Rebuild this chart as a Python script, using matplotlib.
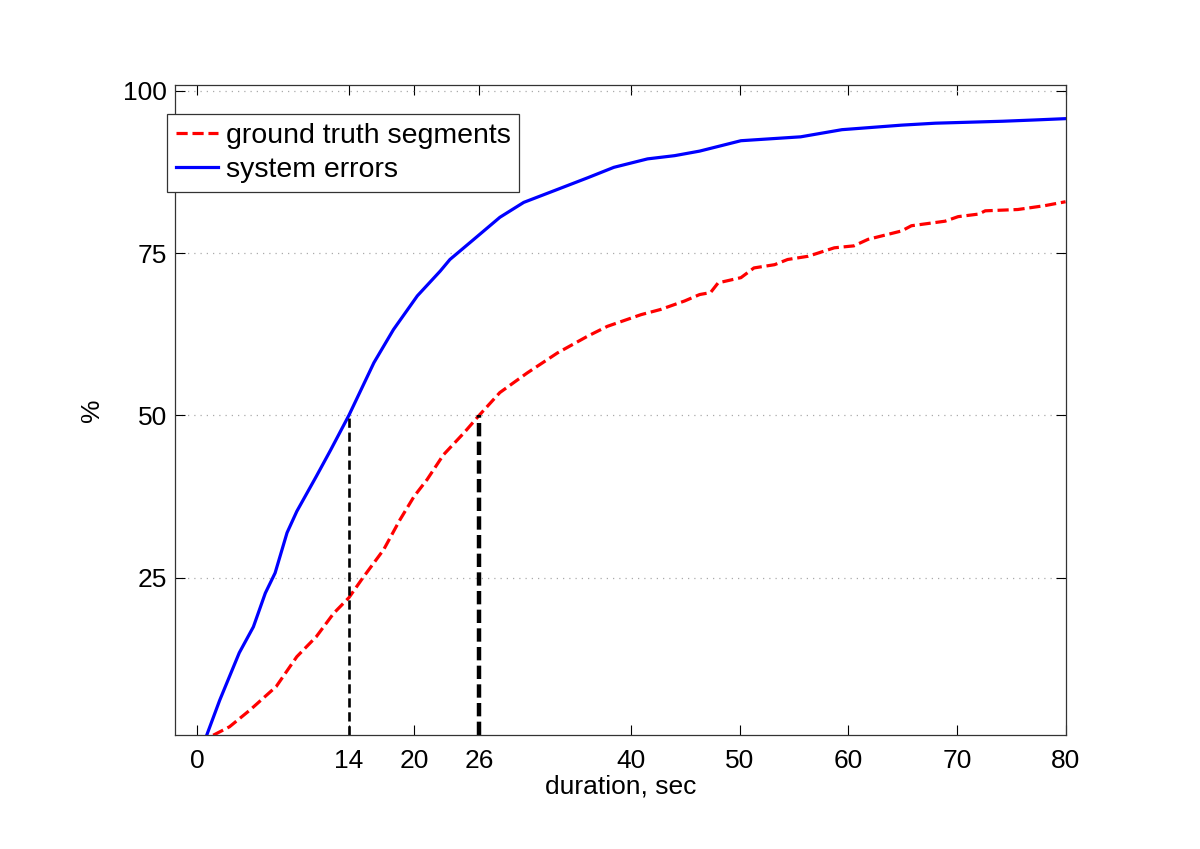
import matplotlib
matplotlib.use('Agg')
import matplotlib.pyplot as plt

plt.rcParams['font.family'] = ['Liberation Sans', 'DejaVu Sans']

# Cumulative distribution of durations
gt_x = [1.5, 3.0, 4.9, 7.3, 9.2, 11.0, 12.6, 14.0, 15.3, 17.2, 18.7, 20.0, 21.2,
        22.7, 24.6, 26.0, 27.9, 30.4, 33.2, 36.0, 37.8, 40.9, 42.7, 44.9, 46.3,
        47.3, 48.0, 50.1, 51.3, 53.2, 54.4, 56.3, 58.7, 60.5, 61.8, 64.9, 65.8,
        68.9, 70.1, 72.0, 72.6, 75.6, 78.1, 80.0]
gt_y = [0.7, 2.0, 4.6, 8.2, 12.8, 15.9, 19.5, 21.9, 25.0, 29.3, 33.9, 37.5, 40.1,
        43.9, 47.3, 50.0, 53.5, 56.5, 59.6, 62.2, 63.7, 65.5, 66.3, 67.6, 68.6,
        68.9, 70.4, 71.2, 72.7, 73.2, 74.0, 74.5, 75.8, 76.1, 77.1, 78.4, 79.2,
        79.9, 80.6, 81.0, 81.5, 81.7, 82.3, 82.9]

err_x = [0.9, 2.1, 3.9, 5.2, 6.3, 7.2, 8.3, 9.2, 11.0, 12.3, 14.0, 16.3, 18.1,
         20.3, 22.4, 23.3, 25.5, 27.9, 30.1, 32.9, 36.0, 38.4, 41.5, 44.0, 46.3,
         50.1, 55.6, 59.4, 64.9, 68.0, 74.2, 77.2, 80.0]
err_y = [0.7, 6.1, 13.4, 17.4, 22.6, 25.7, 31.9, 35.2, 40.6, 44.6, 50.0, 58.1, 63.2,
         68.4, 72.2, 74.0, 77.1, 80.5, 82.8, 84.6, 86.6, 88.2, 89.5, 90.0, 90.7,
         92.3, 92.9, 94.0, 94.7, 95.0, 95.3, 95.5, 95.7]

# Medians marked with vertical lines
median_x = [14, 26]
median_y = 50

x_ticks = [0, 14, 20, 26, 40, 50, 60, 70, 80]
y_ticks = [25, 50, 75, 100]

fig = plt.figure(figsize=(12, 8.49), dpi=100)
ax = fig.add_axes([0.146, 0.134, 0.742, 0.766])

ymin, ymax = 0.7, 100.9

ax.plot(gt_x, gt_y, color='#ff0000', lw=2.3, linestyle=(0, (3.5, 1.5)),
        label='ground truth segments')
ax.plot(err_x, err_y, color='#0000ff', lw=2.3, label='system errors')

ax.plot([median_x[0]] * 2, [ymin, median_y], color='black', lw=1.9,
        linestyle=(0, (3.5, 1.8)))
ax.plot([median_x[1]] * 2, [ymin, median_y], color='black', lw=3.2,
        linestyle=(0, (3.0, 1.2)))

ax.set_xlim(-2, 80)
ax.set_ylim(ymin, ymax)
ax.set_xticks(x_ticks)
ax.set_yticks(y_ticks)
ax.tick_params(direction='in', length=7, width=0.8, labelsize=19,
               top=True, right=True, pad=6)
ax.tick_params(axis='x', pad=10)
ax.yaxis.grid(True, linestyle=(0, (1, 4)), color='#aaaaaa', lw=0.9)
for s in ax.spines.values():
    s.set_linewidth(0.9)
    s.set_color('#333333')

ax.set_xlabel('duration, sec', fontsize=19, labelpad=1)
ax.set_ylabel('%', fontsize=19, labelpad=14)

leg = ax.legend(loc='upper left', bbox_to_anchor=(-0.009, 0.955), fontsize=20.5,
                frameon=True, fancybox=False, framealpha=1, edgecolor='#333333',
                borderpad=0.3, labelspacing=0.3, handlelength=1.5,
                handletextpad=0.25, borderaxespad=0)
leg.get_frame().set_linewidth(0.9)

fig.savefig('out.png', dpi=100)
